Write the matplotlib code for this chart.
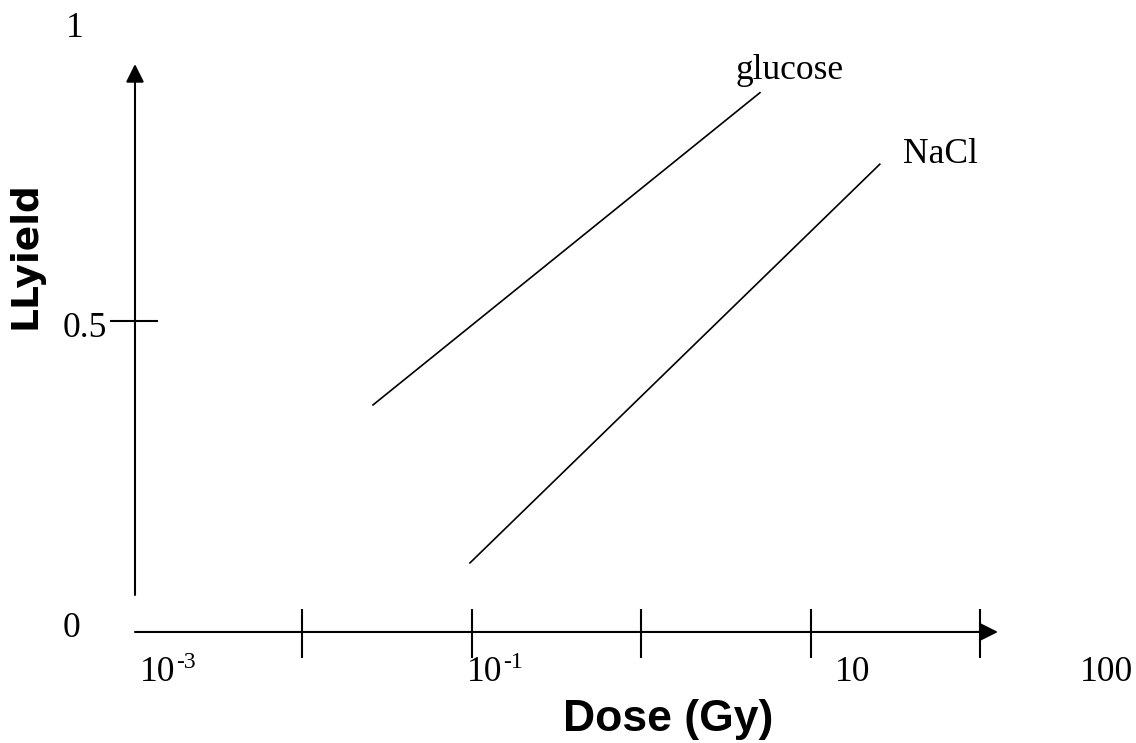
import matplotlib
matplotlib.use("Agg")
import matplotlib.pyplot as plt
import numpy as np

# ---- data (dose in Gy, yield) ----
glucose_dose = [0.0262, 5.01]
glucose_yield = [0.365, 0.867]
nacl_dose = [0.0977, 25.5]
nacl_yield = [0.111, 0.752]

xtick_values = [1e-2, 1e-1, 1, 10, 100]
xtick_bases = ["10", "10", "10", "100"]
xtick_sups = ["-3", "-1", "", ""]
xtick_label_pos = [1.107e-3, 0.0938, 13.87, 386]
ytick_labels = ["0", "0.5", "1"]
ytick_label_pos = [(3.89e-4, -0.008), (3.89e-4, 0.474), (4.06e-4, 0.957)]

fig = plt.figure(figsize=(11.36, 7.43), dpi=100)
ax = fig.add_axes([0, 0, 1, 1])
ax.set_xscale('log')
ax.set_xlim(10**-3.781, 10**2.917)
ax.set_ylim(-0.1785, 1.016)
ax.axis('off')

serif_family = ['Liberation Serif', 'DejaVu Serif']
serif = dict(family=serif_family, fontsize=25.5, color='black')

# axes arrows
x0 = 1.035e-3
arrow = dict(arrowstyle='-|>,head_length=1.1,head_width=0.55',
             lw=1.5, color='black', shrinkA=0, shrinkB=0, mutation_scale=10)
ax.annotate('', xy=(126.8, 0.0), xytext=(x0, 0.0), arrowprops=arrow)
ax.annotate('', xy=(x0, 0.913), xytext=(x0, 0.0595), arrowprops=arrow)

# ticks
ax.vlines(xtick_values, -0.042, 0.037, colors='black', lw=1.5)
ax.hlines([0.5], 7.36e-4, 1.41e-3, colors='black', lw=1.5)

# data lines
ax.plot(glucose_dose, glucose_yield, color='black', lw=1.2)
ax.plot(nacl_dose, nacl_yield, color='black', lw=1.2)

# x tick labels (base + hyphen superscript)
for base, sup, xp in zip(xtick_bases, xtick_sups, xtick_label_pos):
    ax.text(xp, -0.0788, base, ha='left', va='baseline', **serif)
    if sup:
        ax.annotate(sup, xy=(xp, -0.0788), xytext=(26, 9.5),
                    textcoords='offset points', ha='left', va='baseline',
                    family=serif_family, fontsize=17, color='black')
for lab, (xp, yp) in zip(ytick_labels, ytick_label_pos):
    ax.text(xp, yp, lab, ha='left', va='baseline', **serif)

ax.text(3.57, 0.889, "glucose", ha='left', va='baseline', **serif)
ax.text(34.9, 0.754, "NaCl", ha='left', va='baseline', **serif)

ax.text(1.45, -0.159, "Dose (Gy)", ha='center', va='baseline',
        family=['Liberation Sans Narrow', 'Liberation Sans', 'DejaVu Sans'],
        fontweight='bold', fontsize=32)
ax.text(2.35e-4, 0.606, "LLyield", ha='center', va='center', rotation=90,
        family=['DejaVu Sans'], fontweight='bold', fontsize=27)

fig.savefig("out.png", dpi=100)
